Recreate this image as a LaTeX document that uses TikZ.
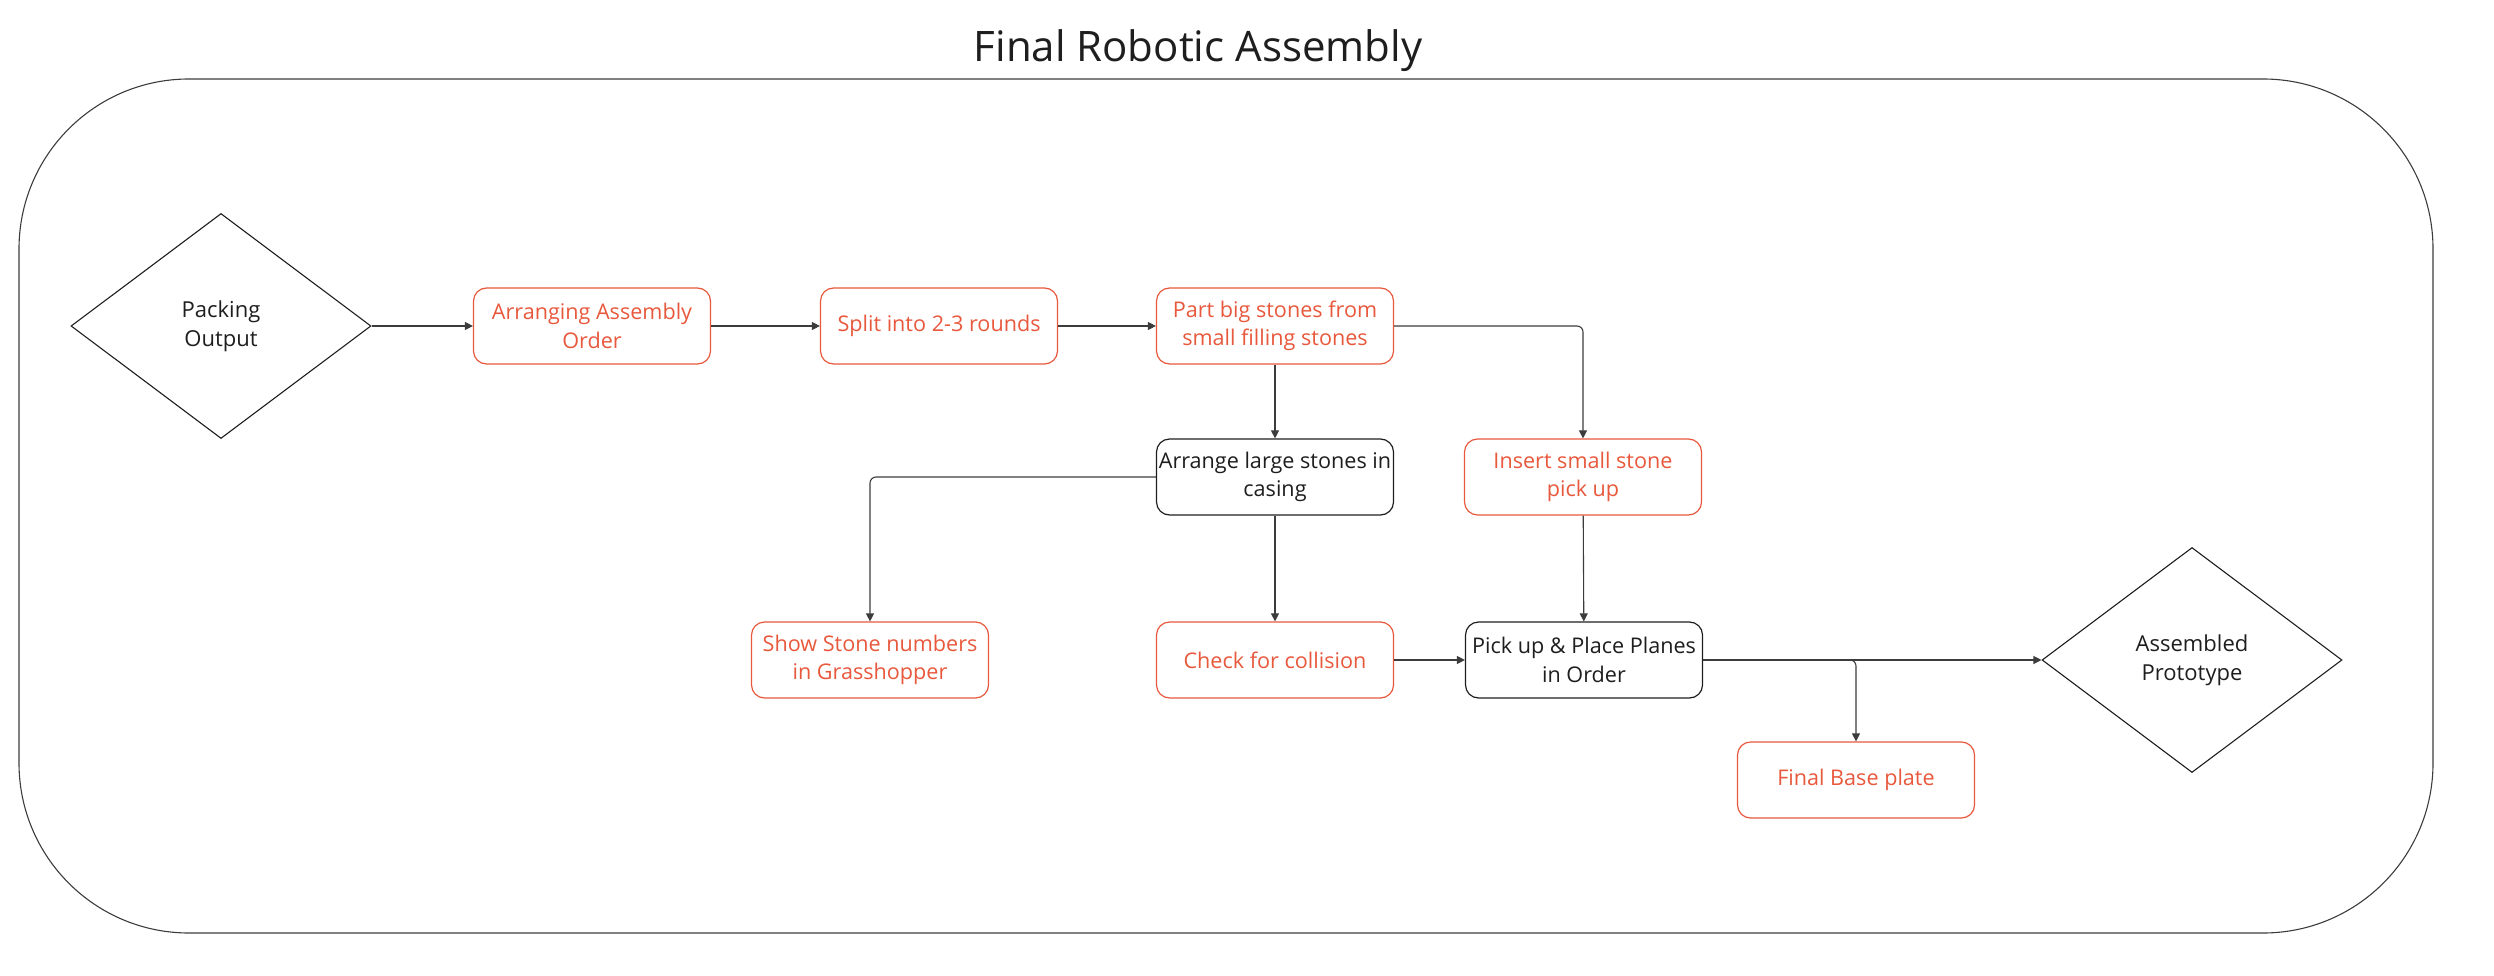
\documentclass[tikz,border=0pt]{standalone}
\usepackage{fontspec}
\setmainfont{Open Sans}
\usetikzlibrary{arrows.meta,shapes.geometric}
\definecolor{accent}{RGB}{232,88,60}
\definecolor{ink}{RGB}{30,30,30}
\definecolor{edge}{RGB}{60,60,60}
\begin{document}
\begin{tikzpicture}[x=1pt,y=-1pt,
  box/.style={draw=ink, rectangle, rounded corners=13pt, minimum width=237pt, minimum height=76pt,
    inner sep=0pt, align=center, line width=1.2pt, font=\fontsize{21.6}{28.5}\selectfont, text=ink},
  redbox/.style={box, draw=accent, text=accent},
  dia/.style={draw=ink, diamond, minimum width=300pt, minimum height=225pt, inner sep=0pt,
    align=center, line width=1.1pt, font=\fontsize{22}{29}\selectfont, text=ink},
  conn/.style={draw=edge, line width=1.1pt, -{Triangle[length=8pt,width=8pt]}, rounded corners=6pt},
  frame/.style={draw=edge, line width=1.1pt, rectangle, rounded corners=170pt, inner sep=0pt}]
\useasboundingbox (0,0) rectangle (2494,976);
\node[anchor=base, font=\fontsize{42}{50}\selectfont, text=ink] (title) at (1198,62) {Final Robotic Assembly};
\node[frame, minimum width=2414pt, minimum height=854pt] (outer) at (1226,506) {};

\node[dia] (pack) at (221,326) {Packing\\Output};
\node[redbox] (arr) at (592,326) {Arranging Assembly\\Order};
\node[redbox] (split) at (939,326) {Split into 2-3 rounds};
\node[redbox] (part) at (1275,326) {Part big stones from\\small filling stones};
\node[box] (arrange) at (1275,477) {Arrange large stones in\\casing};
\node[redbox] (insert) at (1583,477) {Insert small stone\\pick up};
\node[redbox] (show) at (870,660) {Show Stone numbers\\in Grasshopper};
\node[redbox] (check) at (1275,660) {Check for collision};
\node[box] (pick) at (1584,660) {Pick up \& Place Planes\\in Order};
\node[redbox] (base) at (1856,780) {Final Base plate};
\node[dia] (assembled) at (2192,660) {Assembled\\Prototype};

\draw[conn] (pack) -- (arr);
\draw[conn] (arr) -- (split);
\draw[conn] (split) -- (part);
\draw[conn] (part.east) -| (insert.north);
\draw[conn] (part) -- (arrange);
\draw[conn] (arrange.west) -| (show.north);
\draw[conn] (arrange) -- (check);
\draw[conn] (insert) -- (pick);
\draw[conn] (check) -- (pick);
\draw[conn] (pick) -- (assembled);
\draw[conn] (pick.east) -| (base.north);
\end{tikzpicture}
\end{document}
